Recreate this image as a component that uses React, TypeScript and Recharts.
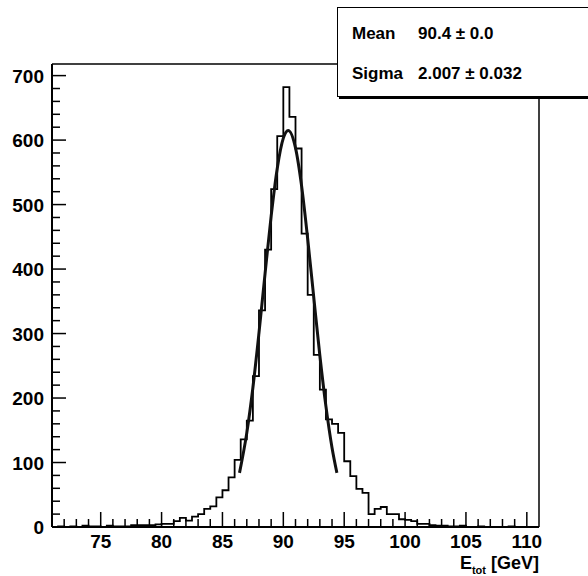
import { ComposedChart, Line, XAxis, YAxis, ReferenceLine } from 'recharts'

// histogram: 80 bins of 0.5 GeV from 71 to 111
const histMin = 71
const histMax = 111
const binWidth = 0.5
const binCounts = [
  0, 1, 0, 1, 0, 2, 1, 1, 0, 2, 1, 1, 1, 3, 3, 3, 3, 4, 5, 5,
  9, 14, 10, 16, 20, 28, 32, 46, 57, 77, 104, 136, 165, 234, 336, 430, 524, 606, 682, 636,
  587, 455, 360, 267, 213, 167, 160, 146, 102, 79, 59, 53, 20, 28, 31, 20, 20, 12, 11, 9,
  5, 5, 3, 2, 2, 1, 1, 2, 0, 0, 1, 0, 0, 0, 0, 1, 0, 0, 0, 0,
]

// gaussian fit curve
const fitX = [86.4, 87, 87.5, 88, 88.5, 89, 89.5, 90, 90.4, 91, 91.5, 92, 92.5, 93, 93.5, 94, 94.4]
const fitY = [84, 146, 216, 301, 393, 482, 556, 603, 615, 588, 529, 447, 356, 266, 187, 123, 84]

const xMajor = [75, 80, 85, 90, 95, 100, 105, 110]
const xMinor = [72, 73, 74, 76, 77, 78, 79, 81, 82, 83, 84, 86, 87, 88, 89, 91, 92, 93, 94, 96, 97, 98, 99, 101, 102, 103, 104, 106, 107, 108, 109]
const yMajor = [0, 100, 200, 300, 400, 500, 600, 700]
const yMax = 718

const statNames = ['Mean', 'Sigma']
const statValues = ['90.4 \u00b1 0.0', '2.007 \u00b1 0.032']

const histData = binCounts.map((c, i) => ({ x: histMin + i * binWidth, y: c }))
histData.push({ x: histMax, y: binCounts[binCounts.length - 1] })
const fitData = fitX.map((x, i) => ({ x, y: fitY[i] }))

const yMinor: number[] = []
for (let v = 20; v <= 700; v += 20) if (v % 100 !== 0) yMinor.push(v)

const FONT = '"Liberation Sans", Arial, Helvetica, sans-serif'

const XTick = ({ x, y, payload }: any) => {
  const major = xMajor.includes(payload.value)
  return (
    <g>
      <line x1={x} y1={y} x2={x} y2={y - (major ? 15 : 8)} stroke="#000" strokeWidth={1.5} />
      {major && (
        <text x={x} y={y + 21} textAnchor="middle" fontFamily={FONT} fontWeight="bold" fontSize={19} fill="#000">
          {payload.value}
        </text>
      )}
    </g>
  )
}

const YTick = ({ x, y, payload }: any) => {
  const major = yMajor.includes(payload.value)
  return (
    <g>
      <line x1={x} y1={y} x2={x + (major ? 14 : 8)} y2={y} stroke="#000" strokeWidth={1.5} />
      {major && (
        <text x={x - 8} y={y + 7} textAnchor="end" fontFamily={FONT} fontWeight="bold" fontSize={19} fill="#000">
          {payload.value}
        </text>
      )}
    </g>
  )
}

export default function App() {
  return (
    <div style={{ position: 'absolute', left: 0, top: 0, width: 588, height: 576, overflow: 'hidden', background: '#fff' }}>
      <ComposedChart width={588} height={576} margin={{ top: 64, right: 49, bottom: 0, left: 0 }}>
        <XAxis
          type="number"
          dataKey="x"
          domain={[histMin, histMax]}
          ticks={[...xMinor, ...xMajor].sort((a, b) => a - b)}
          interval={0}
          height={49}
          tickSize={0}
          tickMargin={0}
          tickLine={false}
          axisLine={{ stroke: '#000', strokeWidth: 2 }}
          tick={<XTick />}
          allowDataOverflow
        />
        <YAxis
          type="number"
          domain={[0, yMax]}
          ticks={[...yMinor, ...yMajor].sort((a, b) => a - b)}
          interval={0}
          width={52}
          tickSize={0}
          tickMargin={0}
          tickLine={false}
          axisLine={{ stroke: '#000', strokeWidth: 2 }}
          tick={<YTick />}
          allowDataOverflow
        />
        <ReferenceLine y={yMax} stroke="#000" strokeWidth={1.5} />
        <ReferenceLine x={histMax} stroke="#000" strokeWidth={1.5} />
        <Line
          data={histData}
          dataKey="y"
          type="stepAfter"
          stroke="#000"
          strokeWidth={1.8}
          dot={false}
          isAnimationActive={false}
        />
        <Line
          data={fitData}
          dataKey="y"
          type="monotone"
          stroke="#111"
          strokeWidth={3}
          dot={false}
          isAnimationActive={false}
        />
      </ComposedChart>

      <div
        style={{
          position: 'absolute',
          left: 337,
          top: 7,
          width: 260,
          height: 88,
          background: '#fff',
          border: '1px solid #000',
          boxShadow: '2px 2px 0 #000',
          fontFamily: FONT,
          fontWeight: 'bold',
          fontSize: 17,
          color: '#000',
        }}
      >
        {statNames.map((n, i) => (
          <div key={n} style={{ position: 'absolute', left: 14, top: 16 + i * 40, lineHeight: '20px', whiteSpace: 'nowrap' }}>
            <span style={{ display: 'inline-block', width: 66 }}>{n}</span>
            <span>{statValues[i]}</span>
          </div>
        ))}
      </div>

      <svg style={{ position: 'absolute', left: 0, top: 0 }} width={588} height={576}>
        <text x={539} y={569} textAnchor="end" fontFamily={FONT} fontWeight="bold" fontSize={18} fill="#000">
          E
          <tspan fontSize={11} dy={5}>tot</tspan>
          <tspan dy={-5}> [GeV]</tspan>
        </text>
      </svg>
    </div>
  )
}
